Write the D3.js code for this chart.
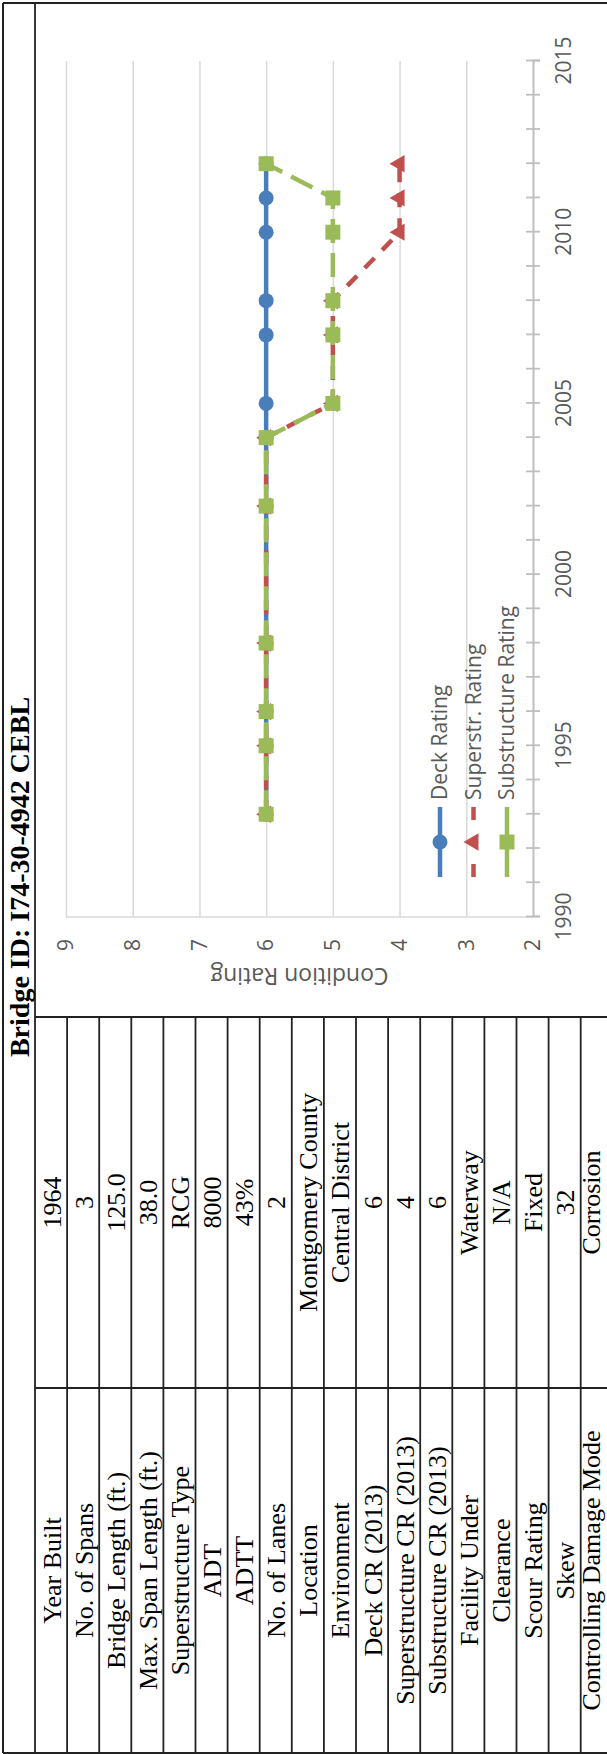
<!DOCTYPE html>
<html><head><meta charset="utf-8">
<script src="https://cdn.jsdelivr.net/npm/d3@7"></script>
<style>html,body{margin:0;padding:0;background:#fff;} svg{display:block;}</style>
</head><body>
<svg id="c" width="607" height="1754"></svg>
<script>
const titleText = "Bridge ID: I74-30-4942 CEBL";
const rowLabels = ["Year Built","No. of Spans","Bridge Length (ft.)","Max. Span Length (ft.)","Superstructure Type","ADT","ADTT","No. of Lanes","Location","Environment","Deck CR (2013)","Superstructure CR (2013)","Substructure CR (2013)","Facility Under","Clearance","Scour Rating","Skew","Controlling Damage Mode"];
const rowValues = ["1964","3","125.0","38.0","RCG","8000","43%","2","Montgomery County","Central District","6","4","6","Waterway","N/A","Fixed","32","Corrosion"];
const years = [1993,1995,1996,1998,2002,2004,2005,2007,2008,2010,2011,2012];
const deckRating = [6,6,6,6,6,6,6,6,6,6,6,6];
const superRating = [6,6,6,6,6,6,5,5,5,4,4,4];
const subRating = [6,6,6,6,6,6,5,5,5,5,5,6];
const yTicks = [2,3,4,5,6,7,8,9];
const yearLabels = [1990,1995,2000,2005,2010,2015];
const seriesNames = ["Deck Rating","Superstr. Rating","Substructure Rating"];
const seriesColors = ["#4a7ebb","#c0504d","#9bbb59"];

const LW = 1754, LH = 607;
const svg = d3.select("#c");
svg.append("rect").attr("width",607).attr("height",1754).attr("fill","#fff");
// landscape frame rotated onto the portrait page
const g = svg.append("g").attr("transform", `translate(0,${LW}) rotate(-90)`);

const lineCol = "#222";
const headerH = 35, rowH = 32.1, colSplit = 366, tableRight = 737;

// outer borders
g.append("line").attr("x1",1).attr("x2",1751).attr("y1",3).attr("y2",3).attr("stroke",lineCol).attr("stroke-width",2);
g.append("line").attr("x1",1751).attr("x2",1751).attr("y1",3).attr("y2",LH).attr("stroke",lineCol).attr("stroke-width",2);
g.append("line").attr("x1",1).attr("x2",1).attr("y1",3).attr("y2",LH).attr("stroke",lineCol).attr("stroke-width",2);
g.append("line").attr("x1",1).attr("x2",1751).attr("y1",headerH).attr("y2",headerH).attr("stroke",lineCol).attr("stroke-width",1.8);

// title
g.append("text").attr("x",877).attr("y",29).attr("text-anchor","middle")
  .attr("font-family","'Liberation Serif','Times New Roman',serif").attr("font-weight","bold")
  .attr("font-size",28).attr("fill","#000").text(titleText);

// table
g.append("line").attr("x1",tableRight).attr("x2",tableRight).attr("y1",headerH).attr("y2",LH).attr("stroke",lineCol).attr("stroke-width",1.8);
g.append("line").attr("x1",colSplit).attr("x2",colSplit).attr("y1",headerH).attr("y2",LH).attr("stroke",lineCol).attr("stroke-width",1.8);
const rowIdx = d3.range(rowLabels.length);
g.selectAll(".rowline").data(rowIdx.slice(1)).join("line")
  .attr("x1",1).attr("x2",tableRight)
  .attr("y1",d=>headerH+d*rowH).attr("y2",d=>headerH+d*rowH)
  .attr("stroke",lineCol).attr("stroke-width",1.8);
const tfont = "'Liberation Serif','Times New Roman',serif";
const baseY = i => Math.min(headerH+i*rowH+25.5, LH-7);
g.selectAll(".lab").data(rowLabels).join("text")
  .attr("x",(1+colSplit)/2).attr("y",(d,i)=>baseY(i))
  .attr("text-anchor","middle").attr("font-family",tfont).attr("font-size",26).attr("fill","#000")
  .text(d=>d);
g.selectAll(".val").data(rowValues).join("text")
  .attr("x",(colSplit+tableRight)/2).attr("y",(d,i)=>baseY(i))
  .attr("text-anchor","middle").attr("font-family",tfont).attr("font-size",26).attr("fill","#000")
  .text(d=>d);

// chart
const cfont = "'Open Sans','Noto Sans',sans-serif";
const txtCol = "#595959";
const x = d3.scaleLinear().domain([1990,2015]).range([837,1693]);
const y = d3.scaleLinear().domain([2,9]).range([533,66]);

// horizontal gridlines
const grid = g.append("g").attr("transform",`translate(${x(1990)},0)`)
  .call(d3.axisLeft(y).tickValues(yTicks.filter(v=>v>2)).tickSize(-(x(2015)-x(1990))).tickFormat(""));
grid.select(".domain").remove();
grid.selectAll(".tick line").attr("stroke","#d9d9d9").attr("stroke-width",1.5);
// vertical axis line
g.append("line").attr("x1",x(1990)).attr("x2",x(1990)).attr("y1",y(9)).attr("y2",y(2))
  .attr("stroke","#d9d9d9").attr("stroke-width",1.5);

// y labels
const ya = g.append("g").attr("transform",`translate(${x(1990)},0)`)
  .call(d3.axisLeft(y).tickValues(yTicks).tickSize(0).tickPadding(22).tickFormat(d3.format("d")));
ya.select(".domain").remove();
ya.selectAll("text").attr("font-family",cfont).attr("font-size",21).attr("fill",txtCol);

// x axis
const xa = g.append("g").attr("transform",`translate(0,${y(2)})`)
  .call(d3.axisBottom(x).tickValues(d3.range(1990,2016)).tickSize(7)
    .tickFormat(d => yearLabels.includes(d) ? String(d) : ""));
xa.select(".domain").attr("stroke","#bfbfbf").attr("stroke-width",2);
xa.selectAll(".tick line").attr("y1",-7).attr("y2",7).attr("stroke","#bfbfbf").attr("stroke-width",1.8);
xa.selectAll("text").attr("y",37.5).attr("dy",0).attr("font-family",cfont).attr("font-size",21).attr("fill",txtCol);

// axis title
g.append("text").attr("transform",`translate(786,${(y(2)+y(9))/2}) rotate(-90)`)
  .attr("text-anchor","middle").attr("font-family",cfont).attr("font-size",23).attr("fill",txtCol)
  .text("Condition Rating");

// series
const series = [deckRating, superRating, subRating].map((vals,si)=>({
  name: seriesNames[si], color: seriesColors[si],
  pts: years.map((yr,i)=>({year:yr, v:vals[i]}))
}));
const dashes = [null, "14,11", "24,10"];
const legDashes = [null, "13,44,13", "31,8"];
const symbols = [d3.symbolCircle, d3.symbolTriangle, d3.symbolSquare];
const symSizes = [177, 130, 225];
const lineGen = d3.line().x(d=>x(d.year)).y(d=>y(d.v));
series.forEach((s,si)=>{
  const sg = g.append("g");
  sg.append("path").attr("d",lineGen(s.pts)).attr("fill","none")
    .attr("stroke",s.color).attr("stroke-width",4.5)
    .attr("stroke-dasharray",dashes[si]).attr("stroke-linejoin","round");
  sg.selectAll("path.m").data(s.pts).join("path").attr("class","m")
    .attr("transform",d=>`translate(${x(d.year)},${y(d.v)})`)
    .attr("d",d3.symbol().type(symbols[si]).size(symSizes[si])())
    .attr("fill",s.color);
});

// legend
const legY = [440, 473.5, 507];
series.forEach((s,si)=>{
  const lg = g.append("g").attr("transform",`translate(877,${legY[si]})`);
  lg.append("line").attr("x1",0).attr("x2",70).attr("y1",0).attr("y2",0)
    .attr("stroke",s.color).attr("stroke-width",4.5).attr("stroke-dasharray",legDashes[si]);
  lg.append("path").attr("transform","translate(35,0)")
    .attr("d",d3.symbol().type(symbols[si]).size(symSizes[si])()).attr("fill",s.color);
  lg.append("text").attr("x",77).attr("y",0).attr("dy","0.35em")
    .attr("font-family",cfont).attr("font-size",21).attr("fill",txtCol).text(s.name);
});
</script>
</body></html>
